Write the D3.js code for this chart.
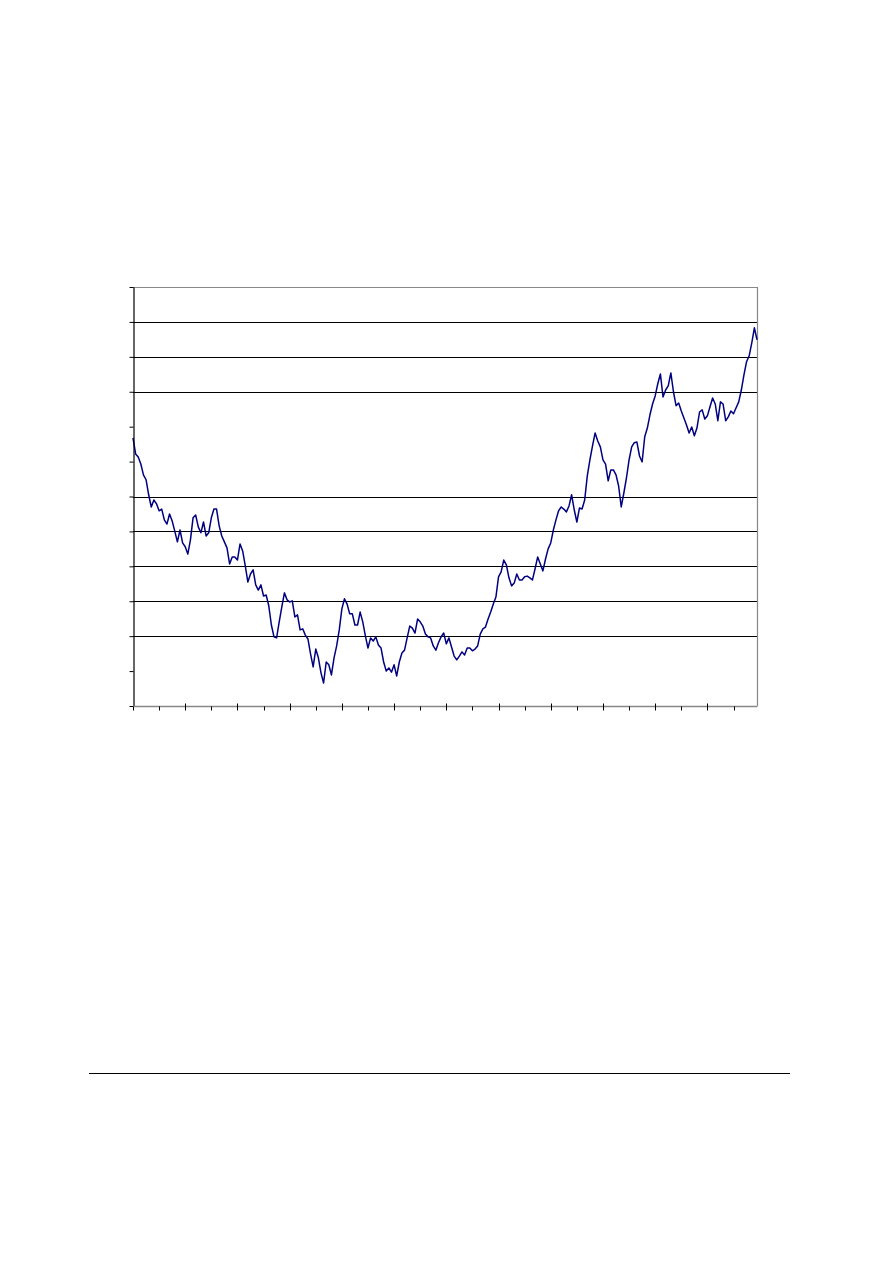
<!DOCTYPE html>
<html lang="en">
<head>
    <meta charset="UTF-8">
    <title>Index</title>
    <script src="https://d3js.org/d3.v7.min.js"></script>
    <style>
        body { margin: 0; background: #fff; }
    </style>
</head>
<body>
    <script>

        // series, one value every 10 days
        var stepDays = 10;
        var values = [
            768, 722, 713, 693, 662, 648, 605, 570, 590, 579,
            559, 564, 533, 521, 550, 530, 501, 470, 504, 467,
            456, 435, 476, 539, 547, 513, 496, 527, 487, 496,
            539, 564, 564, 516, 487, 470, 453, 407, 427, 427,
            418, 464, 444, 401, 355, 378, 390, 347, 332, 347,
            315, 318, 287, 232, 198, 195, 241, 284, 324, 304,
            298, 301, 255, 261, 218, 221, 203, 192, 149, 112,
            163, 138, 95, 66, 126, 118, 89, 138, 172, 218,
            278, 307, 292, 264, 264, 232, 232, 269, 241, 201,
            166, 195, 186, 198, 175, 166, 126, 100, 109, 97,
            118, 86, 126, 152, 160, 195, 229, 223, 209, 249,
            241, 229, 206, 198, 195, 172, 160, 181, 198, 209,
            178, 195, 169, 143, 132, 143, 155, 146, 166, 166,
            158, 163, 172, 206, 221, 226, 249, 269, 292, 312,
            370, 384, 418, 404, 367, 344, 352, 378, 361, 361,
            370, 372, 367, 361, 393, 427, 407, 387, 421, 450,
            467, 504, 533, 559, 570, 564, 556, 573, 605, 562,
            527, 567, 564, 590, 659, 705, 745, 782, 759, 742,
            705, 693, 645, 676, 676, 662, 630, 570, 610, 653,
            705, 742, 754, 756, 716, 699, 771, 796, 834, 865,
            888, 923, 951, 885, 905, 917, 954, 900, 860, 868,
            845, 825, 805, 782, 799, 774, 796, 842, 848, 822,
            831, 857, 882, 865, 817, 871, 865, 817, 828, 845,
            837, 854, 871, 905, 948, 986, 1003, 1040, 1083, 1049
        ];

        var yTicks = d3.range(0, 1201, 100);
        var gridValues = [1100, 1000, 900, 600, 500, 400, 300, 200];
        var xTicks = d3.range(0, 2391, 100);

        var width = 893;
        var height = 1263;
        var plotLeft = 133, plotRight = 757, plotTop = 287, plotBottom = 706;

        var svg = d3.select('body').append('svg')
            .attr('width', width)
            .attr('height', height);

        var x = d3.scaleLinear()
            .domain([0, (values.length - 1) * stepDays])
            .range([plotLeft, plotRight]);

        var y = d3.scaleLinear()
            .domain([0, 1200])
            .range([plotBottom, plotTop]);

        // grid lines
        svg.append('g')
            .selectAll('line')
            .data(gridValues)
            .enter()
            .append('line')
            .attr('x1', plotLeft)
            .attr('x2', plotRight)
            .attr('y1', function (d) { return Math.round(y(d)) + 0.5; })
            .attr('y2', function (d) { return Math.round(y(d)) + 0.5; })
            .attr('stroke', '#000')
            .attr('stroke-width', 1.2);

        // plot border, top and right in grey
        svg.append('path')
            .attr('d', 'M' + plotLeft + ',' + (plotTop + 0.5) + 'H' + (plotRight + 0.5) + 'V' + plotBottom)
            .attr('fill', 'none')
            .attr('stroke', '#888')
            .attr('stroke-width', 1.2);

        // the series
        var line = d3.line()
            .x(function (d, i) { return x(i * stepDays); })
            .y(function (d) { return y(d); });

        svg.append('path')
            .datum(values)
            .attr('d', line)
            .attr('fill', 'none')
            .attr('stroke', '#000080')
            .attr('stroke-width', 1.5)
            .attr('stroke-linejoin', 'round');

        // y axis, ticks only, no labels
        var yAxis = d3.axisLeft(y)
            .tickValues(yTicks)
            .tickSize(4)
            .tickSizeOuter(0)
            .tickFormat('');
        var gy = svg.append('g')
            .attr('transform', 'translate(' + (plotLeft + 0.5) + ',0)')
            .call(yAxis);
        gy.select('.domain').attr('stroke', '#000').attr('stroke-width', 1.2);
        gy.selectAll('.tick line').attr('stroke', '#000');

        // x axis: bottom line grey, ticks every 100 days, every other one crosses
        var gx = svg.append('g')
            .attr('transform', 'translate(0,' + (plotBottom + 0.5) + ')');
        gx.append('line')
            .attr('x1', plotLeft)
            .attr('x2', plotRight + 0.5)
            .attr('stroke', '#888')
            .attr('stroke-width', 1.5);
        gx.selectAll('.tick')
            .data(xTicks)
            .enter()
            .append('line')
            .attr('class', 'tick')
            .attr('x1', function (d) { return Math.round(x(d)) + 0.5; })
            .attr('x2', function (d) { return Math.round(x(d)) + 0.5; })
            .attr('y1', function (d) { return (d % 200 == 0 && d > 0) ? -3 : 0; })
            .attr('y2', 4)
            .attr('stroke', '#000');

        // page rule near the bottom
        svg.append('line')
            .attr('x1', 89)
            .attr('x2', 790)
            .attr('y1', 1073.5)
            .attr('y2', 1073.5)
            .attr('stroke', '#000')
            .attr('stroke-width', 1);

    </script>
</body>
</html>
